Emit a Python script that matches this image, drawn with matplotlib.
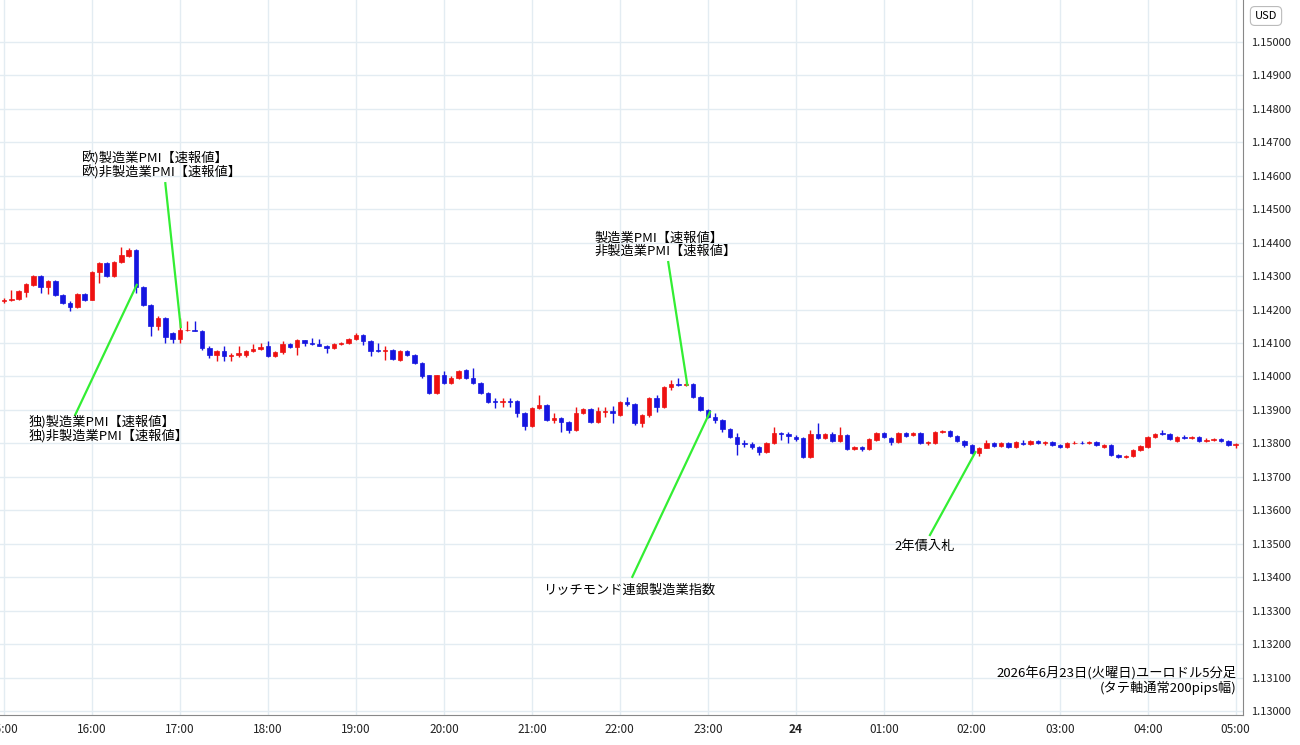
import matplotlib
matplotlib.use("Agg")
import matplotlib.pyplot as plt
from matplotlib.patches import Rectangle

plt.rcParams['font.family'] = ['Noto Sans CJK JP', 'DejaVu Sans']

ohlc = [
(1.14227,1.14235,1.14220,1.14229),(1.14229,1.14260,1.14225,1.14232),(1.14232,1.14258,1.14228,1.14255),
(1.14253,1.14280,1.14238,1.14277),(1.14275,1.14303,1.14272,1.14300),(1.14300,1.14303,1.14250,1.14267),
(1.14267,1.14288,1.14248,1.14285),(1.14285,1.14288,1.14240,1.14243),(1.14243,1.14246,1.14218,1.14220),
(1.14220,1.14225,1.14195,1.14208),(1.14208,1.14250,1.14205,1.14247),(1.14247,1.14250,1.14226,1.14230),
(1.14230,1.14315,1.14228,1.14312),(1.14312,1.14343,1.14280,1.14340),(1.14340,1.14343,1.14297,1.14300),
(1.14300,1.14346,1.14298,1.14343),(1.14343,1.14388,1.14340,1.14363),(1.14360,1.14385,1.14357,1.14378),
(1.14378,1.14380,1.14250,1.14267),(1.14267,1.14270,1.14210,1.14215),(1.14215,1.14218,1.14120,1.14150),
(1.14152,1.14180,1.14140,1.14175),(1.14175,1.14178,1.14100,1.14117),(1.14130,1.14133,1.14100,1.14112),
(1.14112,1.14175,1.14100,1.14140),(1.14138,1.14165,1.14135,1.14140),(1.14140,1.14165,1.14135,1.14137),
(1.14137,1.14140,1.14080,1.14085),(1.14085,1.14090,1.14055,1.14065),(1.14065,1.14078,1.14045,1.14075),
(1.14075,1.14090,1.14045,1.14060),(1.14060,1.14070,1.14045,1.14063),(1.14063,1.14090,1.14058,1.14070),
(1.14063,1.14080,1.14058,1.14075),(1.14075,1.14098,1.14072,1.14083),(1.14083,1.14100,1.14080,1.14087),
(1.14090,1.14105,1.14058,1.14062),(1.14062,1.14075,1.14058,1.14072),(1.14072,1.14105,1.14068,1.14098),
(1.14098,1.14101,1.14085,1.14088),(1.14088,1.14112,1.14065,1.14108),(1.14108,1.14110,1.14090,1.14100),
(1.14100,1.14115,1.14095,1.14098),(1.14098,1.14112,1.14090,1.14092),(1.14092,1.14095,1.14070,1.14085),
(1.14085,1.14100,1.14082,1.14098),(1.14098,1.14103,1.14095,1.14100),(1.14100,1.14115,1.14098,1.14112),
(1.14112,1.14130,1.14110,1.14125),(1.14125,1.14128,1.14095,1.14105),(1.14105,1.14108,1.14060,1.14075),
(1.14078,1.14100,1.14072,1.14075),(1.14075,1.14090,1.14050,1.14080),(1.14080,1.14083,1.14050,1.14052),
(1.14050,1.14078,1.14047,1.14075),(1.14075,1.14078,1.14062,1.14065),(1.14065,1.14068,1.14037,1.14040),
(1.14040,1.14043,1.13997,1.14000),(1.14003,1.14005,1.13947,1.13950),(1.13950,1.14005,1.13947,1.14003),
(1.14003,1.14015,1.13978,1.13982),(1.13982,1.14000,1.13978,1.13997),(1.13997,1.14018,1.13994,1.14015),
(1.14020,1.14022,1.13992,1.13995),(1.13995,1.14025,1.13977,1.13980),(1.13980,1.13983,1.13947,1.13950),
(1.13950,1.13953,1.13920,1.13925),(1.13928,1.13935,1.13905,1.13925),(1.13925,1.13935,1.13910,1.13928),
(1.13928,1.13935,1.13910,1.13925),(1.13928,1.13931,1.13880,1.13890),(1.13890,1.13893,1.13840,1.13852),
(1.13852,1.13908,1.13850,1.13905),(1.13905,1.13945,1.13902,1.13915),(1.13915,1.13918,1.13867,1.13870),
(1.13870,1.13890,1.13860,1.13875),(1.13875,1.13878,1.13835,1.13865),(1.13865,1.13868,1.13830,1.13840),
(1.13840,1.13910,1.13837,1.13890),(1.13890,1.13905,1.13887,1.13902),(1.13902,1.13905,1.13862,1.13865),
(1.13865,1.13910,1.13862,1.13897),(1.13895,1.13910,1.13880,1.13898),(1.13898,1.13912,1.13860,1.13892),
(1.13885,1.13928,1.13882,1.13925),(1.13925,1.13940,1.13912,1.13918),(1.13918,1.13921,1.13855,1.13860),
(1.13860,1.13888,1.13850,1.13885),(1.13885,1.13938,1.13880,1.13935),(1.13935,1.13945,1.13895,1.13910),
(1.13910,1.13971,1.13905,1.13968),(1.13968,1.13990,1.13960,1.13977),(1.13978,1.13995,1.13972,1.13975),
(1.13975,1.13985,1.13972,1.13978),(1.13978,1.13981,1.13937,1.13940),(1.13940,1.13943,1.13897,1.13900),
(1.13900,1.13903,1.13875,1.13880),(1.13880,1.13890,1.13862,1.13870),(1.13870,1.13873,1.13835,1.13843),
(1.13843,1.13846,1.13815,1.13820),(1.13818,1.13830,1.13765,1.13798),(1.13800,1.13810,1.13790,1.13797),
(1.13797,1.13805,1.13783,1.13788),(1.13788,1.13791,1.13765,1.13775),(1.13775,1.13803,1.13772,1.13800),
(1.13800,1.13850,1.13797,1.13830),(1.13830,1.13833,1.13810,1.13828),(1.13828,1.13835,1.13800,1.13822),
(1.13820,1.13825,1.13808,1.13812),(1.13815,1.13818,1.13757,1.13760),(1.13760,1.13840,1.13757,1.13828),
(1.13828,1.13860,1.13812,1.13815),(1.13815,1.13832,1.13812,1.13828),(1.13828,1.13835,1.13805,1.13808),
(1.13808,1.13850,1.13805,1.13825),(1.13825,1.13828,1.13779,1.13782),(1.13782,1.13792,1.13780,1.13790),
(1.13790,1.13793,1.13778,1.13783),(1.13783,1.13815,1.13780,1.13812),(1.13810,1.13833,1.13807,1.13830),
(1.13830,1.13835,1.13815,1.13818),(1.13815,1.13818,1.13795,1.13805),(1.13805,1.13835,1.13800,1.13830),
(1.13830,1.13835,1.13818,1.13823),(1.13826,1.13835,1.13822,1.13830),(1.13830,1.13833,1.13797,1.13800),
(1.13800,1.13806,1.13796,1.13803),(1.13800,1.13838,1.13797,1.13835),(1.13835,1.13840,1.13832,1.13837),
(1.13837,1.13840,1.13820,1.13823),(1.13823,1.13826,1.13805,1.13808),(1.13808,1.13811,1.13790,1.13795),
(1.13795,1.13798,1.13767,1.13770),(1.13770,1.13790,1.13763,1.13787),(1.13787,1.13810,1.13785,1.13800),
(1.13800,1.13803,1.13789,1.13792),(1.13792,1.13803,1.13789,1.13800),(1.13800,1.13803,1.13785,1.13788),
(1.13788,1.13806,1.13785,1.13803),(1.13800,1.13810,1.13795,1.13798),(1.13798,1.13811,1.13795,1.13808),
(1.13808,1.13811,1.13798,1.13801),(1.13801,1.13808,1.13795,1.13805),(1.13805,1.13808,1.13792,1.13795),
(1.13795,1.13798,1.13787,1.13790),(1.13790,1.13803,1.13787,1.13800),(1.13800,1.13808,1.13797,1.13802),
(1.13802,1.13808,1.13797,1.13800),(1.13800,1.13808,1.13797,1.13803),(1.13803,1.13806,1.13792,1.13795),
(1.13788,1.13798,1.13785,1.13795),(1.13795,1.13798,1.13762,1.13765),(1.13765,1.13768,1.13757,1.13760),
(1.13760,1.13765,1.13757,1.13762),(1.13762,1.13783,1.13759,1.13780),(1.13780,1.13795,1.13777,1.13792),
(1.13790,1.13821,1.13787,1.13818),(1.13818,1.13831,1.13815,1.13828),(1.13830,1.13840,1.13825,1.13828),
(1.13828,1.13831,1.13809,1.13812),(1.13808,1.13821,1.13805,1.13818),(1.13818,1.13825,1.13812,1.13815),
(1.13815,1.13822,1.13812,1.13818),(1.13818,1.13821,1.13805,1.13808),(1.13808,1.13815,1.13805,1.13810),
(1.13810,1.13815,1.13807,1.13812),(1.13812,1.13815,1.13805,1.13808),(1.13808,1.13811,1.13792,1.13795),
(1.13795,1.13800,1.13785,1.13797),
]
opens = [r[0] for r in ohlc]
highs = [r[1] for r in ohlc]
lows = [r[2] for r in ohlc]
closes = [r[3] for r in ohlc]

hour_labels = ["15:00","16:00","17:00","18:00","19:00","20:00","21:00","22:00","23:00",
               "24","01:00","02:00","03:00","04:00","05:00"]
y_ticks = [1.130 + 0.001 * k for k in range(21)]

# events: (text, candle index at line end, price at line end, line start idx, line start price, text idx, text price)
events = [
    ("欧)製造業PMI【速報値】\n欧)非製造業PMI【速報値】", 24.1, 1.14148, 22.0, 1.14578, 10.6, 1.14632),
    ("独)製造業PMI【速報値】\n独)非製造業PMI【速報値】", 18.1, 1.14274, 9.7, 1.13885, 3.3, 1.13843),
    ("製造業PMI【速報値】\n非製造業PMI【速報値】", 93.2, 1.13975, 90.6, 1.14342, 80.6, 1.14393),
    ("リッチモンド連銀製造業指数", 96.3, 1.13894, 85.7, 1.13401, 73.5, 1.13362),
    ("2年債入札", 132.5, 1.13774, 126.3, 1.13526, 121.4, 1.13493),
]

fig = plt.figure(figsize=(13, 7.45), dpi=100)
ax = fig.add_axes([0, 1 - 715 / 745, 1243 / 1300, 715 / 745])
ax.set_xlim(-0.55, 169.0)
ax.set_ylim(1.12988, 1.151256)

RED, BLUE = "#ee1111", "#1515e0"
w = 0.6
for i, (o, h, l, c) in enumerate(zip(opens, highs, lows, closes)):
    col = RED if c >= o else BLUE
    ax.vlines(i, l, h, color=col, lw=1.0, zorder=3)
    bh = max(abs(c - o), 0.000012)
    ax.add_patch(Rectangle((i - w / 2, min(o, c)), w, bh, facecolor=col, edgecolor=col, lw=0.5, zorder=4))

ax.set_xticks([12 * k for k in range(len(hour_labels))])
ax.set_xticklabels(hour_labels, fontsize=8.5, color="#222222")
for lab in ax.get_xticklabels():
    if lab.get_text() == "24":
        lab.set_fontweight("bold")
ax.set_yticks(y_ticks)
ax.set_yticklabels([f"{v:.5f}" for v in y_ticks], fontsize=8, color="#222222")
ax.yaxis.tick_right()
ax.tick_params(length=0, pad=6)
ax.grid(True, color="#e3ecf2", lw=1.0)
for s in ["top", "left", "bottom"]:
    ax.spines[s].set_visible(False)
ax.spines["right"].set_color("#888888")
ax.spines["bottom"].set_visible(True)
ax.spines["bottom"].set_color("#888888")

for txt, xe, ye, xs, ys, xt, yt in events:
    ax.plot([xs, xe], [ys, ye], color="#33ee33", lw=1.6, zorder=5)
    ax.text(xt, yt, txt, fontsize=9.5, ha="left", va="center", linespacing=1.0, zorder=6)

ax.text(0.995, 0.028, "2026年6月23日(火曜日)ユーロドル5分足\n(タテ軸通常200pips幅)",
        transform=ax.transAxes, ha="right", va="bottom", fontsize=9.5, linespacing=1.0)

fig.text(1266 / 1300, 1 - 16 / 745, "USD", fontsize=8, ha="center", va="center",
         bbox=dict(boxstyle="round,pad=0.4", fc="white", ec="#bbbbbb", lw=0.8))

fig.savefig("out.png", dpi=100)
